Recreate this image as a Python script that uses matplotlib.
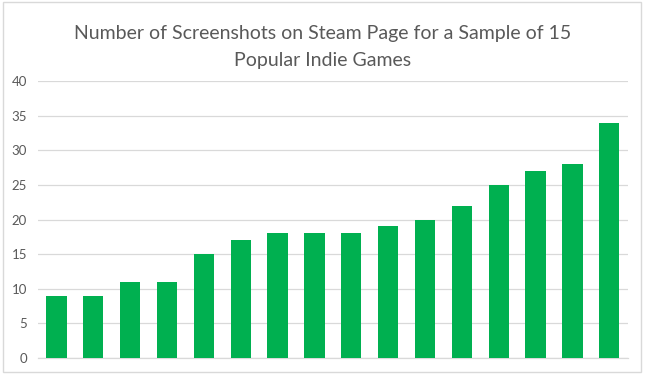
import matplotlib
matplotlib.use("Agg")
import matplotlib.pyplot as plt
from matplotlib.patches import Rectangle

values = [9, 9, 11, 11, 15, 17, 18, 18, 18, 19, 20, 22, 25, 27, 28, 34]
categories = list(range(1, len(values) + 1))
yticks = [0, 5, 10, 15, 20, 25, 30, 35, 40]
title = "Number of Screenshots on Steam Page for a Sample of 15\nPopular Indie Games"

plt.rcParams['font.family'] = ['Lato', 'DejaVu Sans']

fig = plt.figure(figsize=(6.46, 3.77), dpi=100)
fig.patch.set_facecolor('white')
fig.add_artist(Rectangle((0.005, 0.012), 0.988, 0.982, transform=fig.transFigure,
                         fill=False, edgecolor='#D9D9D9', linewidth=1))

ax = fig.add_axes([0.0588, 0.0504, 0.913, 0.7346])
x = list(range(len(values)))
ax.bar(x, values, width=0.55, color='#00B050', zorder=3)
ax.set_xlim(-0.5, len(values) - 0.5)
ax.set_ylim(0, 40)
ax.set_yticks(yticks)
ax.set_yticklabels([str(t) for t in yticks], fontsize=9.5, color='#595959')
ax.set_xticks([])
ax.tick_params(axis='y', length=0, pad=8)
ax.grid(axis='y', color='#D9D9D9', linewidth=0.9, zorder=0)
for s in ['top', 'right', 'left']:
    ax.spines[s].set_visible(False)
ax.spines['bottom'].set_color('#D9D9D9')
ax.spines['bottom'].set_linewidth(0.9)

fig.text(0.5, 0.875, title, ha='center', va='center', fontsize=14, color='#595959',
         linespacing=1.7)

fig.savefig('out.png', dpi=100)
